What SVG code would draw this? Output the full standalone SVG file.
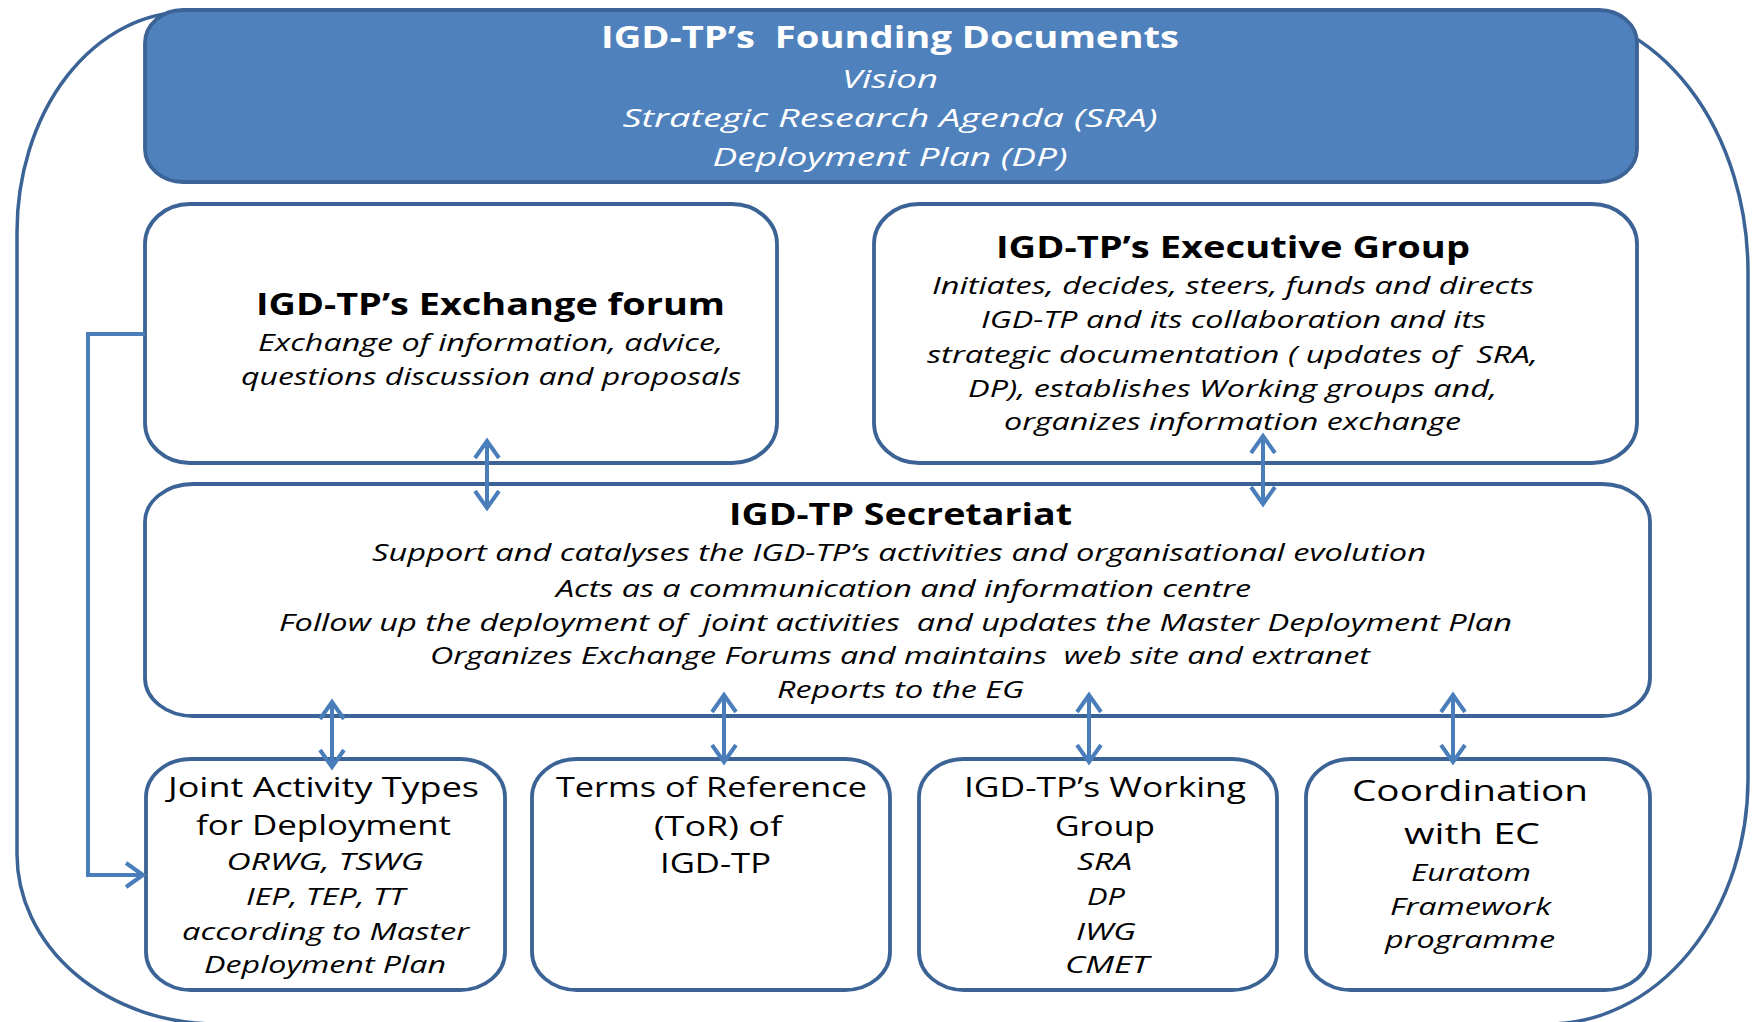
<svg xmlns="http://www.w3.org/2000/svg" width="1752" height="1022" viewBox="0 0 1752 1022" xml:space="preserve">
  <style>
    .frame { fill: none; stroke: #3B6396; stroke-width: 3.5; }
    .box { fill: #FFFFFF; stroke: #3B6396; stroke-width: 3.8; }
    .hdr { fill: #4F81BD; stroke: #3B6396; stroke-width: 3.8; }
    text { font-family: "Open Sans", "Liberation Sans", sans-serif; text-anchor: middle; fill: #000000; white-space: pre; }
    .t { font-weight: bold; font-size: 31px; }
    .it { font-style: italic; font-size: 23px; }
    .wt { fill: #FFFFFF; }
    .hb { font-style: italic; font-size: 26px; }
    .rg { font-size: 28px; }
    .rl { font-size: 30px; }
    .bi { font-style: italic; font-size: 23.5px; }
    .conn { fill: none; stroke: #4A7EBB; stroke-width: 4; }
  </style>
  <defs>
    <marker id="arr" markerUnits="userSpaceOnUse" markerWidth="24" markerHeight="30" viewBox="0 0 24 30" refX="20" refY="15" orient="auto-start-reverse">
      <path d="M3,3 L20,15 L3,27" fill="none" stroke="#4A7EBB" stroke-width="4" stroke-linejoin="miter"/>
    </marker>
  </defs>

  <g id="outer-frame">
    <path class="frame" d="M187,12 H1548 A200,260 0 0 1 1748,272 V779 A200,245 0 0 1 1548,1024 H217 A200,170 0 0 1 17,854 V232 A170,220 0 0 1 187,12 Z"/>
  </g>

  <g id="founding-documents">
    <rect class="hdr" x="145" y="10" width="1492" height="172" rx="38" ry="33"/>
    <text class="t wt" x="890" y="48" textLength="578" lengthAdjust="spacingAndGlyphs">IGD-TP’s  Founding Documents</text>
    <text class="hb wt" x="890" y="88" textLength="96" lengthAdjust="spacingAndGlyphs">Vision</text>
    <text class="hb wt" x="890" y="127" textLength="535" lengthAdjust="spacingAndGlyphs">Strategic Research Agenda (SRA)</text>
    <text class="hb wt" x="890" y="166" textLength="355" lengthAdjust="spacingAndGlyphs">Deployment Plan (DP)</text>
  </g>

  <g id="exchange-forum">
    <rect class="box" x="145" y="204" width="632" height="259" rx="45" ry="40"/>
    <text class="t" x="490.5" y="315" textLength="469" lengthAdjust="spacingAndGlyphs">IGD-TP’s Exchange forum</text>
    <text class="it" x="490.5" y="351" textLength="465" lengthAdjust="spacingAndGlyphs">Exchange of information, advice,</text>
    <text class="it" x="491" y="385" textLength="500" lengthAdjust="spacingAndGlyphs">questions discussion and proposals</text>
  </g>

  <g id="executive-group">
    <rect class="box" x="874" y="204" width="763" height="259" rx="45" ry="40"/>
    <text class="t" x="1233" y="258" textLength="474" lengthAdjust="spacingAndGlyphs">IGD-TP’s Executive Group</text>
    <text class="it" x="1233" y="294" textLength="602" lengthAdjust="spacingAndGlyphs">Initiates, decides, steers, funds and directs</text>
    <text class="it" x="1233.5" y="328" textLength="505" lengthAdjust="spacingAndGlyphs">IGD-TP and its collaboration and its</text>
    <text class="it" x="1232.5" y="363" textLength="611" lengthAdjust="spacingAndGlyphs">strategic documentation ( updates of  SRA,</text>
    <text class="it" x="1232.5" y="397" textLength="529" lengthAdjust="spacingAndGlyphs">DP), establishes Working groups and,</text>
    <text class="it" x="1232.5" y="430" textLength="457" lengthAdjust="spacingAndGlyphs">organizes information exchange</text>
  </g>

  <g id="secretariat">
    <rect class="box" x="145" y="484" width="1505" height="232" rx="48" ry="38"/>
    <text class="t" x="900.5" y="525" textLength="343" lengthAdjust="spacingAndGlyphs">IGD-TP Secretariat</text>
    <text class="it" x="899" y="561" textLength="1054" lengthAdjust="spacingAndGlyphs">Support and catalyses the IGD-TP’s activities and organisational evolution</text>
    <text class="it" x="903.5" y="597" textLength="695" lengthAdjust="spacingAndGlyphs">Acts as a communication and information centre</text>
    <text class="it" x="895.5" y="631" textLength="1233" lengthAdjust="spacingAndGlyphs">Follow up the deployment of  joint activities  and updates the Master Deployment Plan</text>
    <text class="it" x="900" y="664" textLength="940" lengthAdjust="spacingAndGlyphs">Organizes Exchange Forums and maintains  web site and extranet</text>
    <text class="it" x="900.5" y="698" textLength="247" lengthAdjust="spacingAndGlyphs">Reports to the EG</text>
  </g>

  <g id="joint-activity-types">
    <rect class="box" x="146" y="759" width="359" height="231" rx="45" ry="38"/>
    <text class="rg" x="323.5" y="797" textLength="311" lengthAdjust="spacingAndGlyphs">Joint Activity Types</text>
    <text class="rg" x="323.5" y="835" textLength="255" lengthAdjust="spacingAndGlyphs">for Deployment</text>
    <text class="bi" x="325" y="870" textLength="197" lengthAdjust="spacingAndGlyphs">ORWG, TSWG</text>
    <text class="bi" x="325.5" y="905" textLength="159" lengthAdjust="spacingAndGlyphs">IEP, TEP, TT</text>
    <text class="bi" x="325.5" y="940" textLength="287" lengthAdjust="spacingAndGlyphs">according to Master</text>
    <text class="bi" x="325" y="973" textLength="242" lengthAdjust="spacingAndGlyphs">Deployment Plan</text>
  </g>

  <g id="terms-of-reference">
    <rect class="box" x="532" y="759" width="358" height="231" rx="45" ry="38"/>
    <text class="rg" x="711.5" y="797" textLength="311" lengthAdjust="spacingAndGlyphs">Terms of Reference</text>
    <text class="rg" x="718" y="836" textLength="128" lengthAdjust="spacingAndGlyphs">(ToR) of</text>
    <text class="rg" x="715.5" y="873" textLength="111" lengthAdjust="spacingAndGlyphs">IGD-TP</text>
  </g>

  <g id="working-group">
    <rect class="box" x="919" y="759" width="358" height="231" rx="45" ry="38"/>
    <text class="rg" x="1105" y="797" textLength="282" lengthAdjust="spacingAndGlyphs">IGD-TP’s Working</text>
    <text class="rg" x="1105" y="836" textLength="100" lengthAdjust="spacingAndGlyphs">Group</text>
    <text class="bi" x="1104.5" y="870" textLength="55" lengthAdjust="spacingAndGlyphs">SRA</text>
    <text class="bi" x="1106" y="905" textLength="38" lengthAdjust="spacingAndGlyphs">DP</text>
    <text class="bi" x="1106" y="940" textLength="60" lengthAdjust="spacingAndGlyphs">IWG</text>
    <text class="bi" x="1107" y="973" textLength="84" lengthAdjust="spacingAndGlyphs">CMET</text>
  </g>

  <g id="coordination-ec">
    <rect class="box" x="1306" y="759" width="344" height="231" rx="45" ry="38"/>
    <text class="rl" x="1470" y="801" textLength="236" lengthAdjust="spacingAndGlyphs">Coordination</text>
    <text class="rl" x="1472" y="844" textLength="136" lengthAdjust="spacingAndGlyphs">with EC</text>
    <text class="bi" x="1471" y="881" textLength="120" lengthAdjust="spacingAndGlyphs">Euratom</text>
    <text class="bi" x="1470.5" y="915" textLength="161" lengthAdjust="spacingAndGlyphs">Framework</text>
    <text class="bi" x="1470" y="948" textLength="170" lengthAdjust="spacingAndGlyphs">programme</text>
  </g>

  <g id="connectors">
    <path class="conn" d="M487,441 V508" marker-start="url(#arr)" marker-end="url(#arr)"/>
    <path class="conn" d="M1263,436 V504" marker-start="url(#arr)" marker-end="url(#arr)"/>
    <path class="conn" d="M332,702 V767" marker-start="url(#arr)" marker-end="url(#arr)"/>
    <path class="conn" d="M724,695 V762" marker-start="url(#arr)" marker-end="url(#arr)"/>
    <path class="conn" d="M1089,695 V762" marker-start="url(#arr)" marker-end="url(#arr)"/>
    <path class="conn" d="M1453,695 V762" marker-start="url(#arr)" marker-end="url(#arr)"/>
    <path class="conn" d="M145,334 H88 V875 H143" marker-end="url(#arr)"/>
  </g>
</svg>
